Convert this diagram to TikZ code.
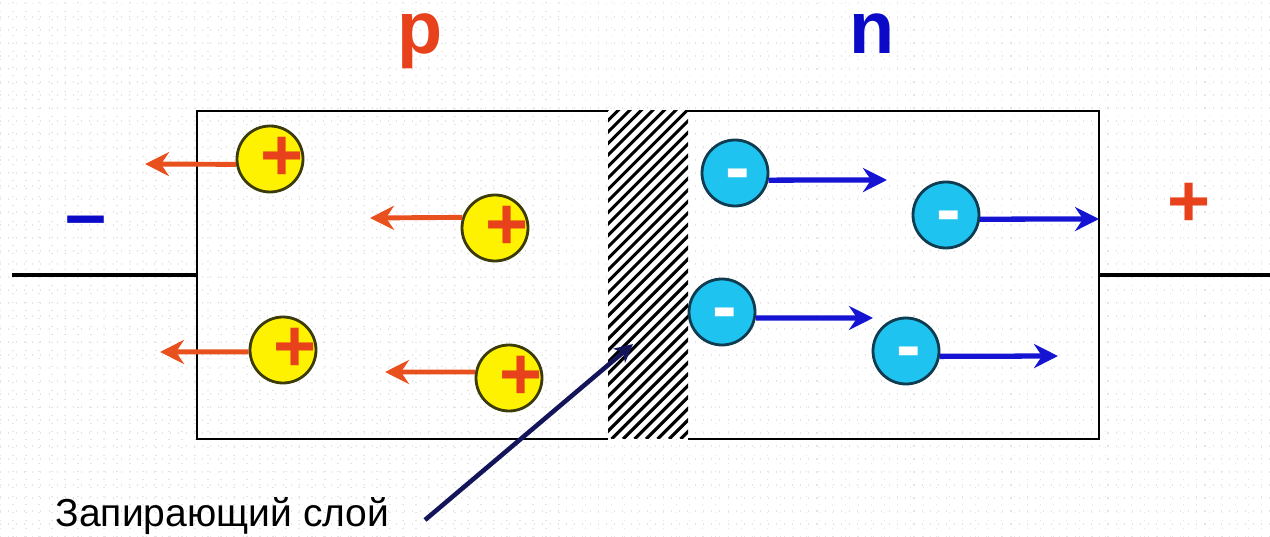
\documentclass[tikz,border=0pt]{standalone}
\usepackage{fontspec}
\setmainfont{Liberation Sans}
\usepackage{xcolor}
\usetikzlibrary{arrows.meta}

\definecolor{pred}{RGB}{232,66,28}
\definecolor{nblue}{RGB}{10,10,200}
\definecolor{holeedge}{RGB}{60,60,10}
\definecolor{elecfill}{RGB}{30,195,240}
\definecolor{elecedge}{RGB}{15,60,80}
\definecolor{holearr}{RGB}{232,80,30}
\definecolor{elecarr}{RGB}{20,20,210}
\definecolor{pointer}{RGB}{20,20,90}
\definecolor{gridc}{RGB}{228,228,228}

\begin{document}
\begin{tikzpicture}[
  big/.style={font=\fontsize{21}{21}\selectfont\bfseries, inner sep=0pt},
  hole/.style={circle, draw=holeedge, fill=yellow, line width=0.8pt,
    minimum size=6.6mm, inner sep=0pt,
    label={[big, text=pred, xshift=1.2mm]center:+}},
  electron/.style={circle, draw=elecedge, fill=elecfill, line width=0.8pt,
    minimum size=6.6mm, inner sep=0pt,
    label={[big, text=white, xshift=0.3mm, yshift=-0.8mm]center:-}},
  harrow/.style={draw=holearr, line width=1.4pt,
    -{Stealth[length=2.4mm, width=2.4mm, inset=0.8mm]}},
  earrow/.style={draw=elecarr, line width=1.5pt,
    -{Stealth[length=2.4mm, width=2.4mm, inset=0.8mm]}},
  wire/.style={line width=1.2pt},
  hatch/.style={line width=0.9pt},
]
  \useasboundingbox (0,0) rectangle (12.70,5.37);
  \fill[white] (0,0) rectangle (12.70,5.37);

  % Faint background grid
  \draw[gridc, dotted, line width=0.3pt, step=0.13] (0,0) grid (12.70,5.37);

  % Wires
  \draw[wire] (0.12,2.62) -- (1.97,2.62);
  \draw[wire] (10.99,2.62) -- (12.70,2.62);

  % p and n regions
  \draw[line width=0.6pt] (6.08,4.26) -- (1.97,4.26) -- (1.97,0.98) -- (6.08,0.98);
  \draw[line width=0.6pt] (6.88,4.26) -- (10.99,4.26) -- (10.99,0.98) -- (6.88,0.98);

  % Barrier layer (hatched)
  \begin{scope}
    \clip (6.08,0.98) rectangle (6.88,4.26);
    \fill[white] (6.08,0.98) rectangle (6.88,4.26);
    \foreach \i in {0,...,36} {
      \draw[hatch] (2.78+\i*0.115,0.98) -- ++(3.3,3.3);
    }
  \end{scope}

  % Region labels
  \node[big, text=pred, anchor=base] (plabel) at (4.20,4.83) {p};
  \node[big, text=nblue, anchor=base] (nlabel) at (8.72,4.83) {n};
  \node[big, text=nblue] (minus) at (0.86,3.09) {–};
  \node[big, text=pred] (plus) at (11.89,3.32) {+};

  % Holes
  \node[hole] (h1) at (2.70,3.78) {};
  \node[hole] (h2) at (4.95,3.09) {};
  \node[hole] (h3) at (2.83,1.87) {};
  \node[hole] (h4) at (5.09,1.59) {};

  % Electrons
  \node[electron] (e1) at (7.35,3.64) {};
  \node[electron] (e2) at (9.46,3.22) {};
  \node[electron] (e3) at (7.22,2.25) {};
  \node[electron] (e4) at (9.06,1.86) {};

  % Arrow ends
  \coordinate (a1) at (1.45,3.73);
  \coordinate (a2) at (3.70,3.19);
  \coordinate (a3) at (1.60,1.85);
  \coordinate (a4) at (3.85,1.65);
  \coordinate (b1) at (8.87,3.57);
  \coordinate (b2) at (10.99,3.18);
  \coordinate (b3) at (8.73,2.19);
  \coordinate (b4) at (10.58,1.81);

  \draw[harrow] (h1.189) -- (a1);
  \draw[harrow] (h2.162) -- (a2);
  \draw[harrow] (h3.183) -- (a3);
  \draw[harrow] (h4.170) -- (a4);
  \draw[earrow] (e1.348) -- (b1);
  \draw[earrow] (e2.353) -- (b2);
  \draw[earrow] (e3.350) -- (b3);
  \draw[earrow] (e4.351) -- (b4);

  % Barrier label and pointer
  \node[font=\fontsize{11.1}{13}\selectfont, anchor=base west, inner sep=0pt]
    (barrier) at (0.55,0.10) {Запирающий слой};
  \coordinate (ptail) at (4.25,0.17);
  \coordinate (ptip) at (6.33,1.93);
  \draw[pointer, line width=1.3pt,
    -{Stealth[length=1.8mm, width=1.8mm, inset=0.5mm]}] (ptail) -- (ptip);
\end{tikzpicture}
\end{document}
